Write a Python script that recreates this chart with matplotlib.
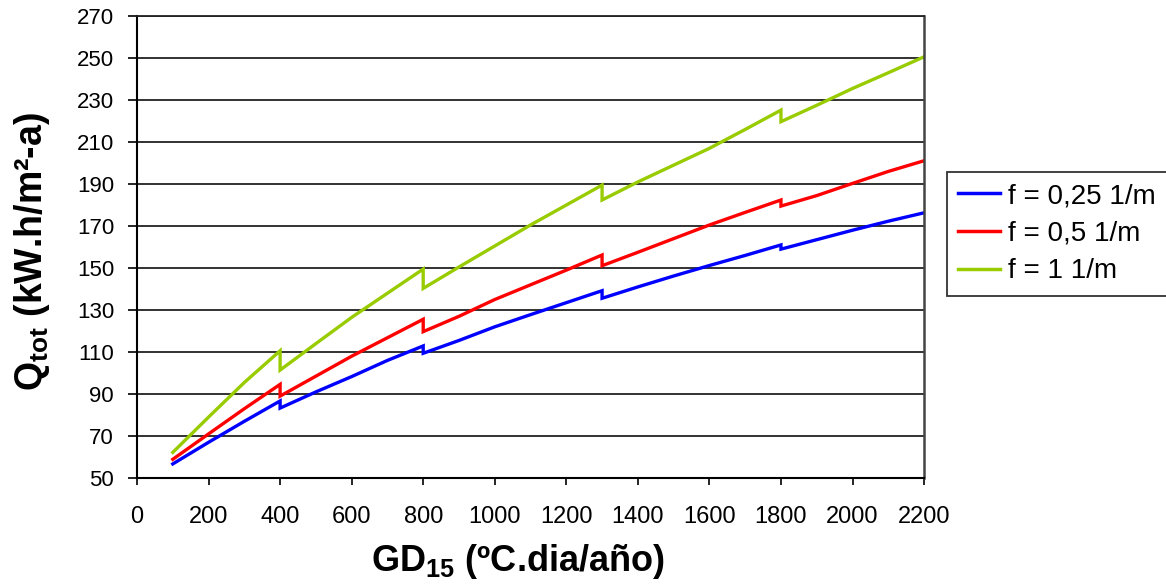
import matplotlib
matplotlib.use("Agg")
import matplotlib.pyplot as plt

plt.rcParams["font.family"] = ["Liberation Sans", "DejaVu Sans"]
plt.rcParams["mathtext.fontset"] = "custom"
plt.rcParams["mathtext.rm"] = "Liberation Sans"
plt.rcParams["mathtext.bf"] = "Liberation Sans:bold"

# GD15 values; the repeated x marks the step down at each band limit
gd = [100, 200, 300, 400, 400, 500, 600, 700, 800, 800, 900, 1000, 1100, 1200, 1300,
      1300, 1400, 1500, 1600, 1700, 1800, 1800, 1900, 2000, 2100, 2200]

q_025 = [56.7, 67.0, 77.0, 86.7, 83.3, 91.0, 98.3, 106.0, 112.9, 109.4, 115.5, 122.0,
         127.8, 133.5, 139.2, 135.6, 141.0, 146.2, 151.2, 156.0, 161.0, 159.0, 163.5,
         168.0, 172.3, 176.3]
q_05 = [58.9, 71.0, 83.0, 94.6, 89.0, 98.5, 108.0, 116.8, 125.6, 119.7, 127.0, 135.0,
        142.0, 149.0, 156.2, 151.1, 157.5, 164.0, 170.5, 176.5, 182.4, 179.5, 184.5,
        190.3, 196.0, 201.1]
q_1 = [62.2, 79.0, 95.5, 110.6, 101.4, 114.0, 126.5, 138.0, 149.5, 140.3, 150.5, 160.5,
       170.5, 180.0, 189.5, 182.4, 191.0, 199.0, 207.0, 216.0, 225.2, 219.7, 227.5,
       235.5, 243.0, 250.6]

labels = ["f = 0,25 1/m", "f = 0,5 1/m", "f = 1 1/m"]
colors = ["#0000FF", "#FF0000", "#99CC00"]

fig = plt.figure(figsize=(11.66, 5.84), dpi=100)
ax = fig.add_axes([0.1175, 0.1815, 0.675, 0.791])

for ys, lab, c in zip([q_025, q_05, q_1], labels, colors):
    ax.plot(gd, ys, color=c, lw=2.4, label=lab, solid_joinstyle="miter")

ax.set_xlim(0, 2200)
ax.set_ylim(50, 270)
ax.set_xticks(range(0, 2201, 200))
ax.set_yticks(range(50, 271, 20))
ax.grid(axis="y", color="#222222", lw=1.3)
ax.set_axisbelow(True)

for s in ["left", "bottom"]:
    ax.spines[s].set_color("black")
    ax.spines[s].set_linewidth(1.5)
ax.spines["top"].set_color("#222222")
ax.spines["top"].set_linewidth(1.3)
ax.spines["right"].set_color("#444444")
ax.spines["right"].set_linewidth(1.8)

ax.tick_params(axis="x", direction="out", length=5, width=1.2, pad=15, labelsize=17)
ax.tick_params(axis="y", direction="out", length=6.5, width=1.2, pad=10, labelsize=16)

ax.set_xlabel(r"GD$_{\mathbf{15}}$ (ºC.dia/año)", fontsize=26, fontweight="bold")
ax.xaxis.set_label_coords(0.484, -0.138)
ax.set_ylabel(r"Q$_{\mathbf{tot}}$ (kW.h/m²-a)", fontsize=27, fontweight="bold")
ax.yaxis.set_label_coords(-0.108, 0.49)

leg = fig.legend(loc="upper left", bbox_to_anchor=(947 / 1166, 1 - 172 / 584),
                 fontsize=20, frameon=True, fancybox=False, handlelength=1.5,
                 handletextpad=0.3, borderpad=0.4, labelspacing=0.42,
                 borderaxespad=0)
leg.get_frame().set_edgecolor("black")
leg.get_frame().set_linewidth(1.3)
for h in leg.get_lines():
    h.set_linewidth(2.5)

fig.savefig("out.png", dpi=100)
